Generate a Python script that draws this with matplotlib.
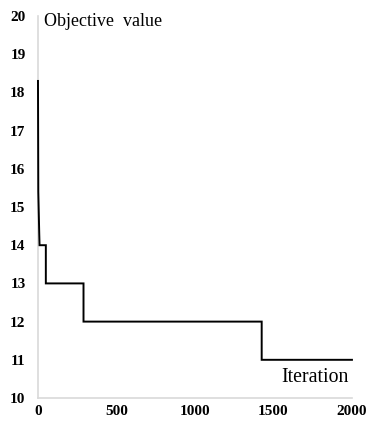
import matplotlib
matplotlib.use("Agg")
import matplotlib.pyplot as plt

# ─── Data ─────────────────────────────────────────────────────────────────────
iterations = [0, 2, 8, 10, 50, 50, 290, 290, 1425, 1425, 2000]
objective = [18.3, 15.4, 14.3, 14.0, 14.0, 13.0, 13.0, 12.0, 12.0, 11.0, 11.0]

x_ticks = [0, 500, 1000, 1500, 2000]
y_ticks = [10, 11, 12, 13, 14, 15, 16, 17, 18, 19, 20]

serif = ["Liberation Serif", "DejaVu Serif"]

# ─── Plot ─────────────────────────────────────────────────────────────────────
fig = plt.figure(figsize=(3.67, 4.21), dpi=100)
ax = fig.add_axes([0.1035, 0.0546, 0.8555, 0.9074])

ax.plot(iterations, objective, color="black", lw=1.4,
        solid_joinstyle="miter", zorder=3, clip_on=False)

ax.set_xlim(0, 2000)
ax.set_ylim(10, 20)
ax.set_xticks(x_ticks)
ax.set_yticks(y_ticks)
ax.set_xticklabels([str(v) for v in x_ticks], family=serif,
                   fontweight="bold", fontsize=11)
ax.set_yticklabels([str(v) for v in y_ticks], family=serif,
                   fontweight="bold", fontsize=11)
ax.tick_params(axis="y", length=0, pad=9)
ax.tick_params(axis="x", length=0, pad=5)

for side in ("top", "right"):
    ax.spines[side].set_visible(False)
for side in ("left", "bottom"):
    ax.spines[side].set_color("#d9d9d9")
    ax.spines[side].set_linewidth(1.2)

ax.text(0.02, 0.985, "Objective  value", transform=ax.transAxes,
        family=serif, fontsize=13, ha="left", va="center")
ax.text(0.99, 0.053, "Iteration", transform=ax.transAxes,
        family=serif, fontsize=14.3, ha="right", va="center")

fig.savefig("out.png", dpi=100)
